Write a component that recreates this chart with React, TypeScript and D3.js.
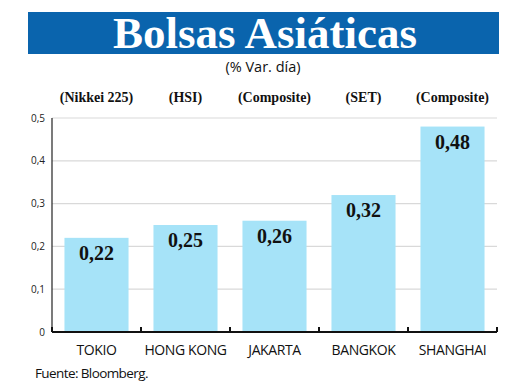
import { useEffect, useRef } from "react"
import * as d3 from "d3"

const cities = ["TOKIO", "HONG KONG", "JAKARTA", "BANGKOK", "SHANGHAI"]
const indices = ["(Nikkei 225)", "(HSI)", "(Composite)", "(SET)", "(Composite)"]
const changes = [0.22, 0.25, 0.26, 0.32, 0.48]
const yTicks = [0, 0.1, 0.2, 0.3, 0.4, 0.5]

const W = 520
const H = 390
const PLOT = { left: 52, right: 497, top: 118, bottom: 332 }

const fmt = (v: number) => (v === 0 ? "0" : d3.format(".1f")(v).replace(".", ","))
const fmtVal = (v: number) => d3.format(".2f")(v).replace(".", ",")

export default function App() {
  const svgRef = useRef<SVGSVGElement>(null)

  useEffect(() => {
    if (!svgRef.current) return
    const svg = d3.select(svgRef.current)
    svg.selectAll("*").remove()

    svg.append("rect").attr("width", W).attr("height", H).attr("fill", "#fff")

    // title banner
    svg.append("rect").attr("x", 28).attr("y", 12).attr("width", 471).attr("height", 42).attr("fill", "#0a64ad")
    svg.append("text")
      .attr("x", 265).attr("y", 48)
      .attr("text-anchor", "middle")
      .attr("font-family", "Liberation Serif, serif")
      .attr("font-weight", "bold")
      .attr("font-size", "45px")
      .attr("fill", "#fff")
      .text("Bolsas Asiáticas")
    svg.append("text")
      .attr("x", 263).attr("y", 72)
      .attr("text-anchor", "middle")
      .attr("font-family", "Open Sans, sans-serif")
      .attr("font-size", "14.5px")
      .attr("fill", "#111")
      .text("(% Var. día)")

    const x = d3.scaleBand<string>().domain(cities).range([PLOT.left, PLOT.right]).paddingInner(0.28).paddingOuter(0.14)
    const y = d3.scaleLinear().domain([0, 0.5]).range([PLOT.bottom, PLOT.top])

    // grid
    svg.append("g")
      .selectAll("line")
      .data(yTicks.filter((t) => t > 0))
      .join("line")
      .attr("x1", PLOT.left).attr("x2", PLOT.right)
      .attr("y1", (d) => y(d)).attr("y2", (d) => y(d))
      .attr("stroke", "#d9d9d9").attr("stroke-width", 1.2)

    // y labels
    svg.append("g")
      .selectAll("text")
      .data(yTicks)
      .join("text")
      .attr("x", 45).attr("y", (d) => y(d) + 3.5)
      .attr("text-anchor", "end")
      .attr("font-family", "Open Sans, sans-serif")
      .attr("font-size", "10px")
      .attr("fill", "#222")
      .text(fmt)

    // bars
    svg.append("g")
      .selectAll("rect")
      .data(changes)
      .join("rect")
      .attr("x", (_, i) => x(cities[i])!)
      .attr("y", (d) => y(d))
      .attr("width", x.bandwidth())
      .attr("height", (d) => y(0) - y(d))
      .attr("fill", "#a6e3f8")

    // value labels
    svg.append("g")
      .selectAll("text")
      .data(changes)
      .join("text")
      .attr("x", (_, i) => x(cities[i])! + x.bandwidth() / 2)
      .attr("y", (d) => y(d) + 22)
      .attr("text-anchor", "middle")
      .attr("font-family", "Liberation Serif, serif")
      .attr("font-weight", "bold")
      .attr("font-size", "20px")
      .attr("fill", "#111")
      .text(fmtVal)

    // index names
    svg.append("g")
      .selectAll("text")
      .data(indices)
      .join("text")
      .attr("x", (_, i) => x(cities[i])! + x.bandwidth() / 2)
      .attr("y", 102)
      .attr("text-anchor", "middle")
      .attr("font-family", "Liberation Serif, serif")
      .attr("font-weight", "bold")
      .attr("font-size", "14px")
      .attr("fill", "#111")
      .text((d) => d)

    // axes
    svg.append("line")
      .attr("x1", PLOT.left).attr("x2", PLOT.left)
      .attr("y1", PLOT.top).attr("y2", PLOT.bottom)
      .attr("stroke", "#222").attr("stroke-width", 1.2)
    svg.append("line")
      .attr("x1", PLOT.left).attr("x2", PLOT.right)
      .attr("y1", PLOT.bottom).attr("y2", PLOT.bottom)
      .attr("stroke", "#111").attr("stroke-width", 2)
    const boundaries = cities.map((c) => x(c)! + x.bandwidth() + x.step() * 0.14)
    svg.append("g")
      .selectAll("line")
      .data(boundaries)
      .join("line")
      .attr("x1", (d) => d).attr("x2", (d) => d)
      .attr("y1", PLOT.bottom).attr("y2", PLOT.bottom - 5)
      .attr("stroke", "#111").attr("stroke-width", 2)
    svg.append("line")
      .attr("x1", PLOT.left).attr("x2", PLOT.left)
      .attr("y1", PLOT.bottom).attr("y2", PLOT.bottom - 5)
      .attr("stroke", "#111").attr("stroke-width", 2)

    // category labels
    svg.append("g")
      .selectAll("text")
      .data(cities)
      .join("text")
      .attr("x", (d) => x(d)! + x.bandwidth() / 2)
      .attr("y", 355)
      .attr("text-anchor", "middle")
      .attr("font-family", "Open Sans, sans-serif")
      .attr("font-size", "14px")
      .attr("letter-spacing", "-0.4px")
      .attr("fill", "#111")
      .text((d) => d)

    svg.append("text")
      .attr("x", 35).attr("y", 378)
      .attr("font-family", "Open Sans, sans-serif")
      .attr("font-size", "13.5px")
      .attr("letter-spacing", "-0.6px")
      .attr("fill", "#111")
      .text("Fuente: Bloomberg.")
  }, [])

  return (
    <svg
      ref={svgRef}
      width={W}
      height={H}
      style={{ position: "absolute", left: 0, top: 0, display: "block" }}
    />
  )
}
